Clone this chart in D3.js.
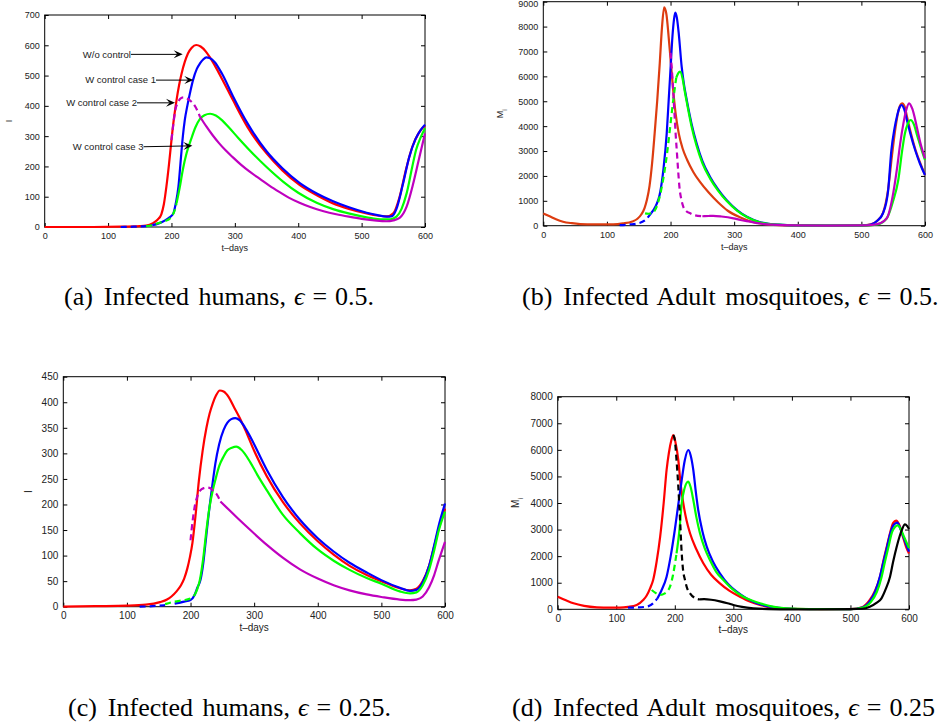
<!DOCTYPE html>
<html>
<head>
<meta charset="utf-8">
<script src="https://cdn.jsdelivr.net/npm/d3@7"></script>
<style>
  body { margin: 0; background: #fff; }
  svg { display: block; font-family: Arial, 'Liberation Sans', Helvetica, sans-serif; }
  .caption { font-family: 'Liberation Serif', 'Times New Roman', serif; font-size: 26px; word-spacing: 3px; fill: #000; }
</style>
</head>
<body>
<div class="visual"></div>
<script>
const xTicks = [0, 100, 200, 300, 400, 500, 600];
const a_yTicks = [0, 100, 200, 300, 400, 500, 600, 700];
const b_yTicks = [0, 1000, 2000, 3000, 4000, 5000, 6000, 7000, 8000, 9000];
const c_yTicks = [0, 50, 100, 150, 200, 250, 300, 350, 400, 450];
const d_yTicks = [0, 1000, 2000, 3000, 4000, 5000, 6000, 7000, 8000];

// (a) infected humans, eps = 0.5
const a_noCtrl_t = [0, 60, 120, 150, 160, 170, 178, 184, 188, 192, 196, 200, 204, 208, 212, 216, 221, 226, 232, 239, 246, 254, 261, 270, 280, 297, 320, 350, 375, 402, 430, 455, 480, 508, 525, 540, 550, 560, 570, 580, 590, 600];
const a_noCtrl_I = [0, 0, 1, 3, 5, 12, 24, 42, 75, 133, 205, 287, 360, 419, 468, 507, 545, 573, 592, 601, 596, 580, 559, 527, 488, 419, 330, 243, 187, 139, 104, 78, 60, 45, 38, 35, 45, 100, 190, 265, 310, 335];
const a_case1_t = [120, 140, 160, 170, 180, 190, 197, 203, 207, 211, 215, 218, 221, 225, 230, 234, 240, 245, 250, 255, 260, 268, 280, 297, 320, 350, 375, 402, 430, 455, 480, 508, 525, 540, 548, 555, 565, 575, 585, 593, 600];
const a_case1_I = [0, 1, 3, 6, 12, 22, 32, 45, 80, 133, 230, 300, 353, 400, 450, 485, 522, 540, 553, 560, 558, 545, 505, 432, 342, 250, 194, 146, 110, 85, 65, 47, 39, 34, 36, 60, 140, 230, 290, 320, 338];
const a_case3_t = [160, 170, 180, 190, 198, 205, 208, 213, 218, 224, 231, 238, 245, 252, 261, 270, 280, 290, 305, 324, 350, 376, 400, 429, 455, 481, 508, 534, 545, 555, 563, 571, 580, 586, 593, 600];
const a_case3_I = [3, 6, 13, 20, 29, 55, 78, 130, 190, 245, 290, 330, 357, 369, 374, 368, 352, 330, 295, 252, 198, 150, 113, 80, 59, 44, 32, 25, 25, 34, 60, 111, 200, 255, 295, 326];
const a_case2_t = [200, 203, 206, 210, 214, 219, 224, 229, 234, 240, 245, 255, 265, 275, 285, 297, 310, 325, 340, 355, 370, 385, 402, 420, 440, 460, 480, 500, 520, 539, 550, 560, 571, 581, 590, 600];
const a_case2_I = [287, 340, 386, 410, 424, 428, 425, 418, 408, 388, 364, 332, 303, 277, 254, 230, 205, 180, 158, 136, 116, 97, 80, 65, 52, 42, 34, 27, 22, 19, 22, 30, 67, 140, 220, 309];
const a_dashUntil = [null, 170, 208, 245];

// (b) infected adult mosquitoes, eps = 0.5
const b_noCtrl_t = [0, 10, 20, 31, 45, 58, 80, 110, 125, 140, 148, 154, 159, 163, 167, 171, 175, 179, 183, 186.5, 190, 193.5, 197, 200, 204, 208, 213, 219, 226, 236, 246, 260, 275, 290, 309, 325, 346, 380, 450, 500, 515, 525, 534, 542, 548, 554, 559, 564, 568, 572, 577, 585, 592, 600];
const b_noCtrl_M = [495, 380, 260, 160, 100, 67, 50, 54, 90, 170, 280, 450, 700, 1050, 1600, 2500, 3700, 5000, 6500, 7950, 8775, 8500, 7600, 6700, 5500, 4500, 3700, 3100, 2650, 2150, 1770, 1330, 930, 600, 340, 180, 70, 15, 0, 10, 60, 200, 520, 1450, 2800, 4000, 4700, 4918, 4780, 4350, 3800, 3050, 2550, 2035];
const b_case1_t = [120, 135, 150, 160, 170, 177, 183, 189, 194, 197, 200, 203, 205.5, 207.5, 210, 213, 217.5, 221, 225.5, 233, 241, 250, 262, 275, 288, 305, 320, 340, 370, 400, 450, 500, 515, 525, 534, 542, 547, 552, 556, 560, 563, 567, 572, 577, 585, 592, 600];
const b_case1_M = [20, 50, 100, 220, 520, 800, 1250, 2300, 3712, 5000, 6300, 7600, 8300, 8560, 8350, 7700, 6388, 5700, 5050, 4100, 3310, 2600, 1970, 1450, 1033, 620, 362, 150, 40, 10, 0, 5, 50, 200, 500, 1400, 3000, 3900, 4400, 4750, 4850, 4700, 4200, 3700, 3000, 2500, 2037];
const b_case3_t = [160, 165, 170, 175, 180, 185, 190, 195, 200, 205, 209, 212, 215, 219, 222, 226, 233, 241, 250, 262, 275, 288, 305, 320, 340, 370, 400, 450, 510, 525, 540, 550, 558, 564, 568.5, 573, 577.5, 582, 588, 594, 600];
const b_case3_M = [498, 480, 498, 600, 900, 1400, 2100, 3000, 4100, 5200, 5950, 6120, 6190, 5900, 5450, 4900, 4000, 3200, 2520, 1900, 1400, 1000, 600, 350, 140, 40, 10, 0, 5, 50, 300, 1000, 1836, 3000, 3712, 4100, 4247, 4100, 3600, 3100, 2640];
const b_case2_t = [200, 202, 204, 206, 208, 210, 212, 214, 217, 220, 225, 231, 238, 250, 260, 267, 280, 299, 310, 325, 340, 360, 400, 450, 510, 520, 529, 540, 550, 556, 561, 566, 570, 575, 580, 587, 593, 600];
const b_case2_M = [6950, 6300, 5500, 4600, 3700, 2950, 2200, 1550, 1050, 763, 580, 498, 420, 380, 390, 395, 370, 297, 230, 161, 90, 40, 10, 0, 10, 40, 94, 300, 1300, 2300, 3300, 4100, 4600, 4918, 4700, 3980, 3300, 2700];
const b_dashUntil = [null, 170, 209, 250];

// (c) infected humans, eps = 0.25
const c_noCtrl_t = [0, 50, 100, 130, 152, 163, 170, 178, 185, 190, 195, 199, 203, 208, 213, 219, 225, 230, 235, 240, 246, 252, 260, 268, 277, 286, 300, 320, 345, 372, 400, 425, 450, 477, 500, 529, 545, 555, 565, 575, 583, 590, 600];
const c_noCtrl_I = [0, 1, 2, 4, 9, 14, 20, 30, 42, 55, 75, 97, 125, 180, 245, 305, 350, 378, 398, 413, 423, 421, 410, 391, 370, 346, 305, 255, 205, 163, 128, 102, 80, 62, 50, 36, 32, 35, 50, 80, 118, 152, 192];
const c_case1_t = [120, 140, 160, 175, 190, 200, 206, 211, 215.6, 220, 224, 228.6, 234, 239, 245, 252, 258, 264, 270.3, 277, 285, 293.75, 305, 319.8, 345, 372, 400, 425, 450, 477, 500, 529, 545, 555, 565, 575, 583, 590, 600];
const c_case1_I = [0, 1, 3, 6, 10, 13, 22, 38, 52, 85, 130, 182, 235, 280, 318, 346, 360, 367, 369, 365, 352, 333, 305, 268, 215, 170, 134, 108, 86, 67, 52, 37, 31, 33, 48, 80, 120, 158, 202];
const c_case3_t = [160, 175, 190, 200, 207, 211, 214.6, 220, 225, 230, 235, 239, 245, 252, 258, 265, 272, 280, 293.75, 305, 319.8, 345, 372, 400, 425, 450, 477, 500, 529, 545, 555, 565, 575, 583, 590, 600];
const c_case3_I = [5, 10, 13, 16, 24, 36, 52, 95, 150, 196, 228, 248, 275, 294, 306, 311, 313, 307, 283, 258, 228, 180, 144, 112, 90, 72, 56, 45, 30, 26, 28, 42, 72, 110, 148, 186];
const c_case2_t = [200, 203, 206, 210.4, 215, 220.8, 226, 231, 236, 241.7, 247, 260, 275, 294, 320, 346, 372, 400, 425, 450, 477, 500, 529, 545, 555, 565, 575, 583, 590, 600];
const c_case2_I = [130, 165, 192, 215, 227, 232, 233, 232, 226, 219, 206, 190, 172, 150, 121, 95, 73, 55, 42, 32, 24, 19, 14, 13, 14, 20, 38, 62, 90, 127];
const c_dashUntil = [null, 170, 207, 247];

// (d) infected adult mosquitoes, eps = 0.25
const d_noCtrl_t = [0, 15, 27, 45, 67, 90, 106, 120, 135, 146, 152, 158, 163, 169, 175, 181, 186, 190, 194, 197.5, 201, 206, 210, 214.5, 220, 226, 237, 248.7, 262, 277, 293, 311, 328, 345.5, 370, 400, 450, 500, 520, 533, 542, 550.5, 556, 562, 568, 573, 578, 583, 590, 595, 600];
const d_noCtrl_M = [476, 330, 226, 130, 75, 60, 63, 90, 163, 350, 520, 800, 1103, 1800, 2733, 4000, 5242, 5900, 6350, 6559, 6300, 5618, 4700, 3989, 3350, 2860, 2250, 1731, 1300, 978, 700, 474, 290, 162, 60, 15, 0, 10, 80, 350, 700, 1228, 1800, 2356, 2900, 3250, 3336, 3200, 2700, 2350, 2100];
const d_case1_t = [120, 135, 152, 163, 170, 177, 186, 193, 200, 206, 211.8, 217, 223, 227, 231.6, 236, 240, 247, 254.5, 265, 277, 291, 305.7, 322, 340, 360, 390, 430, 500, 520, 533, 542, 550, 556, 562, 568, 574, 580, 585, 590, 595, 600];
const d_case1_M = [63, 70, 100, 226, 400, 700, 1228, 2000, 2984, 3950, 4866, 5600, 5995, 5800, 5242, 4400, 3737, 2950, 2356, 1800, 1355, 950, 662, 420, 226, 110, 30, 5, 10, 70, 300, 650, 1200, 1750, 2300, 2850, 3180, 3260, 3050, 2750, 2450, 2170];
const d_case3_t = [160.5, 167, 174.7, 183, 191.8, 197, 203, 208, 211.8, 216, 223, 227, 231.6, 237, 243, 251, 260, 271, 283, 299, 317, 333, 345.5, 365, 390, 430, 500, 520, 535, 545, 553, 559, 565, 571, 576, 581, 586, 592, 600];
const d_case3_M = [726, 620, 538, 600, 851, 1300, 2107, 3000, 3989, 4500, 4802, 4600, 4113, 3450, 2860, 2300, 1855, 1400, 1103, 750, 474, 320, 226, 110, 35, 5, 10, 60, 280, 650, 1200, 1800, 2356, 2900, 3100, 3160, 3000, 2700, 2300];
const d_case2_t = [197.5, 200, 203, 206, 209, 211.8, 214, 217.4, 221, 226, 234, 243, 250, 262, 277, 290, 300, 315, 334, 360, 400, 500, 520, 533, 545, 553, 560, 567.6, 573, 579, 584, 588, 593, 597, 600];
const d_case2_M = [6559, 6371, 5600, 4614, 3360, 2107, 1500, 1103, 800, 602, 430, 370, 380, 360, 300, 230, 162, 90, 38, 10, 0, 5, 20, 98, 250, 414, 750, 1228, 1800, 2356, 2750, 3000, 3198, 3130, 3022];
const d_dashUntil = [null, 170, 203, 243];

// arrows in panel (a): label, tail [t, I], head [t, I]
const a_notes = ['W/o control', 'W control case 1', 'W control case 2', 'W control case 3'];
const a_noteTail = [[136, 570], [175.6, 485], [145.6, 410], [155.9, 265]];
const a_noteHead = [[217.7, 570], [234.5, 485], [205.6, 410], [233, 268]];

const RED = '#ff0000', BLUE = '#0000ff', GREEN = '#00ff00', MAGENTA = '#bf00bf', ORANGE = '#dd3c10', BLACK = '#000000';

const svg = d3
  .select('.visual')
  .append('svg')
  .attr('width', 938)
  .attr('height', 725);

const panels = [
  {
    box: [44.7, 15, 425, 227], yMax: 700, yTicks: a_yTicks, font: 9, yLabel: 'I', yLabelX: 12,
    series: [[a_noCtrl_t, a_noCtrl_I, RED], [a_case1_t, a_case1_I, BLUE], [a_case3_t, a_case3_I, GREEN], [a_case2_t, a_case2_I, MAGENTA]],
    dash: a_dashUntil, notes: true,
    caption: ['(a)', 'Infected humans,', '0.5.'], capX: 64, capY: 305,
  },
  {
    box: [543.3, 1.7, 925, 225.7], yMax: 9000, yTicks: b_yTicks, font: 9, yLabel: 'M', yLabelX: 503,
    series: [[b_noCtrl_t, b_noCtrl_M, ORANGE], [b_case1_t, b_case1_M, BLUE], [b_case3_t, b_case3_M, GREEN], [b_case2_t, b_case2_M, MAGENTA]],
    dash: b_dashUntil,
    caption: ['(b)', 'Infected Adult mosquitoes,', '0.5.'], capX: 522, capY: 305,
  },
  {
    box: [63.3, 376.7, 445, 606.7], yMax: 450, yTicks: c_yTicks, font: 10, yLabel: 'I', yLabelX: 32,
    series: [[c_noCtrl_t, c_noCtrl_I, RED], [c_case1_t, c_case1_I, BLUE], [c_case3_t, c_case3_I, GREEN], [c_case2_t, c_case2_I, MAGENTA]],
    dash: c_dashUntil,
    caption: ['(c)', 'Infected humans,', '0.25.'], capX: 68, capY: 716,
  },
  {
    box: [557.7, 396.7, 909, 609.3], yMax: 8000, yTicks: d_yTicks, font: 10, yLabel: 'M', yLabelX: 519,
    series: [[d_noCtrl_t, d_noCtrl_M, RED], [d_case1_t, d_case1_M, BLUE], [d_case3_t, d_case3_M, GREEN], [d_case2_t, d_case2_M, BLACK]],
    dash: d_dashUntil,
    caption: ['(d)', 'Infected Adult mosquitoes,', '0.25'], capX: 512, capY: 716,
  },
];

const drawPanel = (p) => {
  const [x0, y0, x1, y1] = p.box;
  const x = d3.scaleLinear().domain([0, 600]).range([x0, x1]);
  const y = d3.scaleLinear().domain([0, p.yMax]).range([y1, y0]);
  const g = svg.append('g');

  const styleAxis = (sel) => {
    sel.select('.domain').remove();
    sel.selectAll('.tick line').attr('stroke', '#000');
    sel.selectAll('.tick text').attr('fill', '#222').style('font-size', p.font + 'px');
  };

  g.append('g')
    .attr('transform', `translate(0,${y1})`)
    .call(d3.axisBottom(x).tickValues(xTicks).tickSize(-4).tickSizeOuter(0).tickPadding(5.5))
    .call(styleAxis);
  g.append('g')
    .attr('transform', `translate(0,${y0})`)
    .call(d3.axisTop(x).tickValues(xTicks).tickSize(-4).tickSizeOuter(0).tickFormat(''))
    .call(styleAxis);
  const yAxis = g.append('g')
    .attr('transform', `translate(${x0},0)`)
    .call(d3.axisLeft(y).tickValues(p.yTicks).tickSize(-4).tickSizeOuter(0).tickPadding(5).tickFormat(d3.format('d')))
    .call(styleAxis);
  // keep a top label that would fall off the page inside it
  yAxis.selectAll('.tick')
    .filter((d) => y(d) < p.font * 0.4)
    .select('text')
    .attr('dy', (p.font * 0.4 - y(p.yMax) + 0.32 * p.font) + 'px');
  g.append('g')
    .attr('transform', `translate(${x1},0)`)
    .call(d3.axisRight(y).tickValues(p.yTicks).tickSize(-4).tickSizeOuter(0).tickFormat(''))
    .call(styleAxis);

  g.append('rect')
    .attr('x', x0).attr('y', y0)
    .attr('width', x1 - x0).attr('height', y1 - y0)
    .attr('fill', 'none').attr('stroke', '#000').attr('stroke-width', 1);

  g.append('text')
    .attr('x', (x0 + x1) / 2)
    .attr('y', y1 + 24)
    .attr('text-anchor', 'middle')
    .attr('fill', '#222')
    .style('font-size', p.font + 'px')
    .text('t\u2013days');

  const yl = g.append('text')
    .attr('transform', `translate(${p.yLabelX},${(y0 + y1) / 2}) rotate(-90)`)
    .attr('text-anchor', 'middle')
    .attr('fill', '#222')
    .style('font-size', p.font + 'px')
    .text(p.yLabel);
  if (p.yLabel === 'M') {
    yl.append('tspan').attr('baseline-shift', 'sub').style('font-size', p.font * 0.7 + 'px').text('i');
  }

  const line = d3.line().x((d) => x(d[0])).y((d) => y(d[1])).curve(d3.curveMonotoneX);

  p.series.forEach(([ts, vs, color], i) => {
    const pts = ts.map((t, k) => [t, vs[k]]);
    const cut = p.dash[i];
    const dashed = cut == null ? [] : pts.filter((d) => d[0] <= cut);
    const solid = cut == null ? pts : pts.filter((d) => d[0] >= cut);
    if (dashed.length > 1) {
      g.append('path')
        .attr('d', line(dashed))
        .attr('fill', 'none').attr('stroke', color)
        .attr('stroke-width', 2.2).attr('stroke-dasharray', '6,4');
    }
    g.append('path')
      .attr('d', line(solid))
      .attr('fill', 'none').attr('stroke', color)
      .attr('stroke-width', 2.2);
  });

  if (p.notes) {
    a_notes.forEach((label, i) => {
      const [tx, ty] = [x(a_noteTail[i][0]), y(a_noteTail[i][1])];
      const [hx, hy] = [x(a_noteHead[i][0]), y(a_noteHead[i][1])];
      const ang = Math.atan2(hy - ty, hx - tx);
      const [ux, uy] = [Math.cos(ang), Math.sin(ang)];
      const [L, w] = [9, 4];
      const bx = hx - ux * L, by = hy - uy * L;
      const nx = hx - ux * L * 0.6, ny = hy - uy * L * 0.6;
      g.append('line')
        .attr('x1', tx).attr('y1', ty).attr('x2', nx).attr('y2', ny)
        .attr('stroke', '#000').attr('stroke-width', 1);
      g.append('path')
        .attr('d', `M${hx},${hy}L${bx - uy * w},${by + ux * w}L${nx},${ny}L${bx + uy * w},${by - ux * w}Z`)
        .attr('fill', '#000');
      g.append('text')
        .attr('x', tx).attr('y', ty)
        .attr('dy', '0.35em')
        .attr('text-anchor', 'end')
        .attr('fill', '#222')
        .style('font-size', '9.5px')
        .text(label);
    });
  }

  const [lab, txt, val] = p.caption;
  const cap = svg.append('text').attr('class', 'caption').attr('x', p.capX).attr('y', p.capY);
  cap.append('tspan').text(lab);
  cap.append('tspan').attr('dx', 11).text(txt);
  cap.append('tspan').attr('dx', 8).style('font-style', 'italic').text('\u03F5');
  cap.append('tspan').attr('dx', 8).text('=');
  cap.append('tspan').attr('dx', 8).text(val);
};

panels.forEach(drawPanel);
</script>
</body>
</html>
